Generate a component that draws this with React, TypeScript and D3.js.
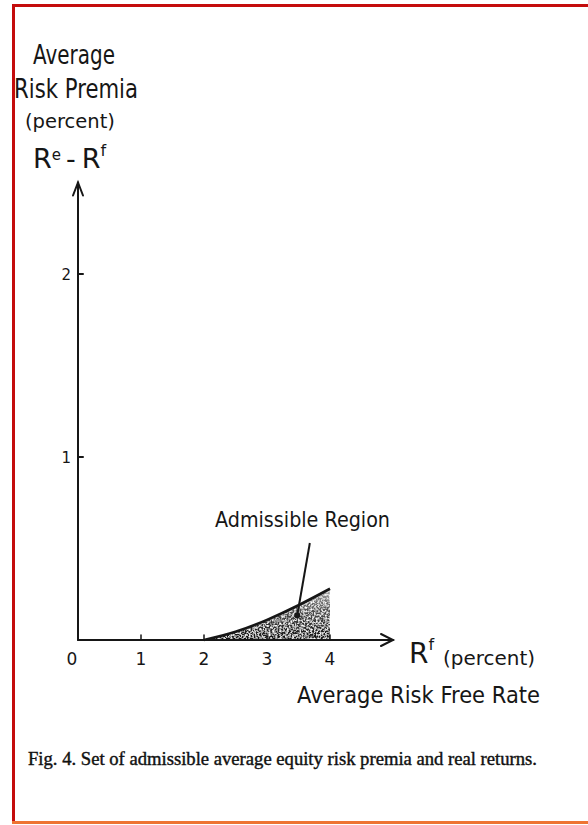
import React from "react";
import * as d3 from "d3";

// data
const xTicks = [0, 1, 2, 3, 4];
const xTickLabels = ["0", "1", "2", "3", "4"];
const yTicks = [1, 2];
const yTickLabels = ["1", "2"];
// upper boundary of the admissible region (risk free rate, premium)
const boundaryRf = [2, 2.5, 3, 3.5, 4];
const boundaryPremia = [0, 0.045, 0.11, 0.19, 0.28];
// pointer from label down into the region
const pointerRf = [3.68, 3.48];
const pointerPremia = [0.53, 0.135];

const W = 588;
const H = 825;
const hand = "'DejaVu Sans', sans-serif";
const ink = "#161616";

const App = () => {
  const x = d3.scaleLinear().domain([0, 5]).range([78, 393]);
  const y = d3.scaleLinear().domain([0, 2.5]).range([640, 182.5]);

  const pts: [number, number][] = boundaryRf.map((r, i) => [r, boundaryPremia[i]]);

  const curve = d3
    .line<[number, number]>()
    .x((d) => x(d[0]))
    .y((d) => y(d[1]))
    .curve(d3.curveNatural);

  const area = d3
    .area<[number, number]>()
    .x((d) => x(d[0]))
    .y0(y(0))
    .y1((d) => y(d[1]))
    .curve(d3.curveNatural);

  const x0 = x(0);
  const y0 = y(0);
  const xEnd = x(5);
  const yTop = y(2.5);

  return (
    <svg
      width={W}
      height={H}
      style={{ position: "absolute", left: 0, top: 0, display: "block", background: "#fff" }}
    >
      <defs>
        <linearGradient id="shade" x1="0" y1="1" x2="0" y2="0">
          <stop offset="0%" stopColor="#111" />
          <stop offset="60%" stopColor="#555" />
          <stop offset="100%" stopColor="#aaa" />
        </linearGradient>
        {/* speckle texture for the hand-stippled region */}
        <filter id="stipple" x="0" y="0" width="100%" height="100%">
          <feTurbulence type="fractalNoise" baseFrequency="0.55" numOctaves="2" seed="4" result="noise" />
          <feColorMatrix
            in="noise"
            type="matrix"
            values="0 0 0 0 1  0 0 0 0 1  0 0 0 0 1  0 0 0 -2.6 1.55"
            result="holes"
          />
          <feComposite in="holes" in2="SourceGraphic" operator="in" result="whiteSpots" />
          <feMerge>
            <feMergeNode in="SourceGraphic" />
            <feMergeNode in="whiteSpots" />
          </feMerge>
        </filter>
      </defs>

      {/* frame */}
      <line x1={13.5} y1={4} x2={13.5} y2={823} stroke="#c40c0c" strokeWidth={3} />
      <line x1={12} y1={5.5} x2={W} y2={5.5} stroke="#c40c0c" strokeWidth={3} />
      <line x1={12} y1={822.5} x2={W} y2={822.5} stroke="#ee7433" strokeWidth={3} />

      {/* y title */}
      <g fill={ink} fontFamily={hand}>
        <text x={33} y={64} fontSize={26} textLength={82} lengthAdjust="spacingAndGlyphs">Average</text>
        <text x={14} y={98} fontSize={26} textLength={124} lengthAdjust="spacingAndGlyphs">Risk Premia</text>
        <text x={25} y={128} fontSize={20} textLength={90} lengthAdjust="spacingAndGlyphs">(percent)</text>
        <text x={33} y={168} fontSize={27}>
          <tspan>R</tspan>
          <tspan fontSize={15} dy={-8}>e</tspan>
          <tspan dy={8} dx={5}>-</tspan>
          <tspan dx={6}>R</tspan>
          <tspan fontSize={16} dy={-12}>f</tspan>
        </text>
      </g>

      {/* shaded admissible region */}
      <path d={area(pts) ?? ""} fill="url(#shade)" filter="url(#stipple)" />
      <path d={curve(pts) ?? ""} fill="none" stroke={ink} strokeWidth={2.6} />

      {/* axes */}
      <g stroke={ink} strokeWidth={2} fill="none" strokeLinecap="round">
        <line x1={x0} y1={y0} x2={x0} y2={yTop} />
        <polyline points={`${x0 - 5},${yTop + 13} ${x0},${yTop} ${x0 + 5},${yTop + 13}`} />
        <line x1={x0} y1={y0} x2={xEnd} y2={y0} />
        <polyline points={`${xEnd - 12},${y0 - 6} ${xEnd},${y0} ${xEnd - 12},${y0 + 6}`} />
        {yTicks.map((t) => (
          <line key={t} x1={x0} y1={y(t)} x2={x0 + 5} y2={y(t)} />
        ))}
        {xTicks.slice(1).map((t) => (
          <line key={t} x1={x(t)} y1={y0} x2={x(t)} y2={y0 - 5} strokeWidth={1.5} />
        ))}
      </g>

      {/* tick labels */}
      <g fill={ink} fontFamily={hand}>
        {yTicks.map((t, i) => (
          <text key={t} x={x0 - 7} y={y(t) + 6} fontSize={15} textAnchor="end">
            {yTickLabels[i]}
          </text>
        ))}
        {xTicks.map((t, i) => (
          <text key={t} x={x(t) - (t === 0 ? 6 : 0)} y={y0 + 25} fontSize={17} textAnchor="middle">
            {xTickLabels[i]}
          </text>
        ))}
      </g>

      {/* pointer + label */}
      <line
        x1={x(pointerRf[0])}
        y1={y(pointerPremia[0])}
        x2={x(pointerRf[1])}
        y2={y(pointerPremia[1])}
        stroke={ink}
        strokeWidth={2}
      />
      <circle cx={x(pointerRf[1])} cy={y(pointerPremia[1])} r={3} fill={ink} />
      <text x={215} y={527} fontSize={22} fontFamily={hand} fill={ink} textLength={175} lengthAdjust="spacingAndGlyphs">
        Admissible Region
      </text>

      {/* x title */}
      <g fill={ink} fontFamily={hand}>
        <text x={409} y={663} fontSize={28}>
          <tspan>R</tspan>
          <tspan fontSize={16} dy={-13}>f</tspan>
        </text>
        <text x={443} y={665} fontSize={19} textLength={92} lengthAdjust="spacingAndGlyphs">(percent)</text>
        <text x={297} y={703} fontSize={23} textLength={243} lengthAdjust="spacingAndGlyphs">
          Average Risk Free Rate
        </text>
      </g>

      {/* caption */}
      <text
        x={28}
        y={765}
        fontSize={18}
        fontFamily="'Liberation Serif', serif"
        fill="#111"
        stroke="#111"
        strokeWidth={0.4}
        textLength={509}
        lengthAdjust="spacingAndGlyphs"
      >
        Fig. 4.  Set of admissible average equity risk premia and real returns.
      </text>
    </svg>
  );
};

export default App;
